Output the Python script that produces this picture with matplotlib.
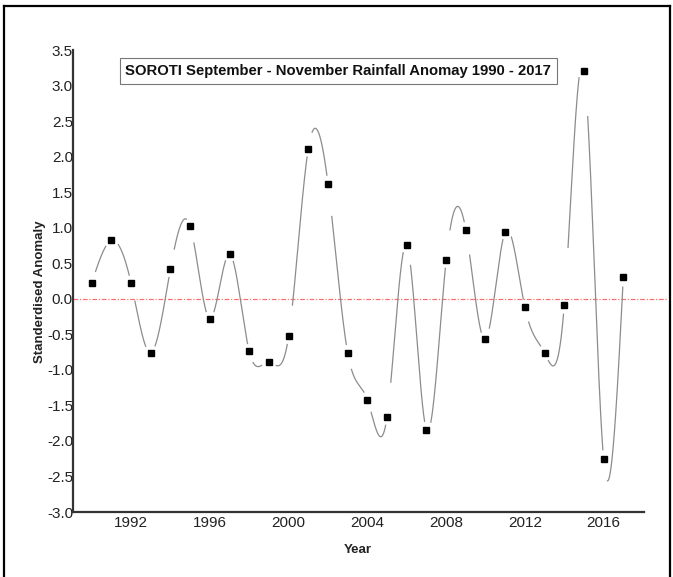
import matplotlib
matplotlib.use('Agg')
import matplotlib.pyplot as plt
import numpy as np

plt.rcParams['font.family'] = ['Liberation Sans', 'DejaVu Sans']

# SOROTI SON standardised rainfall anomaly
years = list(range(1990, 2018))
anomaly = [0.22, 0.82, 0.22, -0.76, 0.42, 1.02, -0.28, 0.63, -0.74, -0.89,
           -0.53, 2.11, 1.62, -0.76, -1.42, -1.66, 0.75, -1.84, 0.54, 0.97,
           -0.57, 0.94, -0.12, -0.76, -0.09, 3.21, -2.26, 0.31]
xticks = [1992, 1996, 2000, 2004, 2008, 2012, 2016]
yticks = [-3.0, -2.5, -2.0, -1.5, -1.0, -0.5, 0.0, 0.5, 1.0, 1.5, 2.0, 2.5, 3.0, 3.5]


def natural_spline(x, y, xs):
    """Natural cubic spline through (x, y), evaluated at xs."""
    x = np.asarray(x, float)
    y = np.asarray(y, float)
    n = len(x)
    h = np.diff(x)
    A = np.zeros((n, n))
    b = np.zeros(n)
    A[0, 0] = A[-1, -1] = 1.0
    for i in range(1, n - 1):
        A[i, i - 1] = h[i - 1]
        A[i, i] = 2 * (h[i - 1] + h[i])
        A[i, i + 1] = h[i]
        b[i] = 6 * ((y[i + 1] - y[i]) / h[i] - (y[i] - y[i - 1]) / h[i - 1])
    M = np.linalg.solve(A, b)
    idx = np.clip(np.searchsorted(x, xs) - 1, 0, n - 2)
    x0, x1 = x[idx], x[idx + 1]
    hh = x1 - x0
    t0, t1 = x1 - xs, xs - x0
    return (M[idx] * t0**3 / (6 * hh) + M[idx + 1] * t1**3 / (6 * hh)
            + (y[idx] / hh - M[idx] * hh / 6) * t0
            + (y[idx + 1] / hh - M[idx + 1] * hh / 6) * t1)


fig = plt.figure(figsize=(6.73, 5.77), dpi=100)
ax = fig.add_axes([73 / 673, 65 / 577, 571 / 673, 462 / 577])
ax.set_xlim(1989.05, 2018.05)
ax.set_ylim(-3.0, 3.5)

# spline with gaps around each symbol (wider gap after a symbol than before it)
xs = np.linspace(years[0], years[-1], 4000)
ys = natural_spline(years, anomaly, xs)
curve_px = ax.transData.transform(np.column_stack([xs, ys]))
pts_px = ax.transData.transform(np.column_stack([years, anomaly]))
mask = np.ones(len(xs), bool)
for (px, py), yr in zip(pts_px, years):
    d = np.hypot(curve_px[:, 0] - px, curve_px[:, 1] - py)
    after = (xs >= yr) & (xs < yr + 0.19)
    mask &= (d > 8) & ~after
ys_gap = np.where(mask, ys, np.nan)
ax.plot(xs, ys_gap, color='#8c8c8c', lw=0.9, zorder=2)

ax.plot(years, anomaly, ls='none', marker='s', ms=4.3, color='black', zorder=3)

ax.axhline(0, xmin=0, xmax=(667 - 73) / 571, color='#ff6b6b', lw=0.85,
           ls=(0, (4, 1.5, 1, 1.5)), clip_on=False, zorder=1)

for side in ['top', 'right']:
    ax.spines[side].set_visible(False)
for side in ['left', 'bottom']:
    ax.spines[side].set_color('#333333')
    ax.spines[side].set_linewidth(1.6)

ax.set_xticks(xticks)
ax.set_yticks(yticks)
ax.set_yticklabels([f'{v:.1f}' for v in yticks])
ax.tick_params(axis='both', length=0, labelsize=11, colors='#222222')
ax.tick_params(axis='y', pad=0)
ax.tick_params(axis='x', pad=3)

fig.text(358 / 673, 1 - 550 / 577, 'Year', ha='center', va='center',
         fontsize=9.5, fontweight='bold', color='#222222')
fig.text(40 / 673, 1 - 292 / 577, 'Standerdised Anomaly', ha='center', va='center',
         rotation=90, fontsize=9.5, fontweight='bold', color='#222222')

fig.text(338 / 673, 1 - 71 / 577, 'SOROTI September - November Rainfall Anomay 1990 - 2017',
         ha='center', va='center', fontsize=10.7, fontweight='bold', color='#111111')
fig.patches.append(plt.Rectangle((120 / 673, 1 - 84 / 577), 437 / 673, 26 / 577,
                                 transform=fig.transFigure, fill=False,
                                 edgecolor='#777777', lw=0.8))

# outer frame
fig.add_artist(plt.Line2D([4 / 673, 4 / 673], [0, 1 - 6 / 577], color='black', lw=1.6))
fig.add_artist(plt.Line2D([670 / 673, 670 / 673], [0, 1 - 6 / 577], color='black', lw=1.6))
fig.add_artist(plt.Line2D([4 / 673, 670 / 673], [1 - 6 / 577, 1 - 6 / 577], color='black', lw=1.6))

fig.savefig('out.png', dpi=100, facecolor='white')
